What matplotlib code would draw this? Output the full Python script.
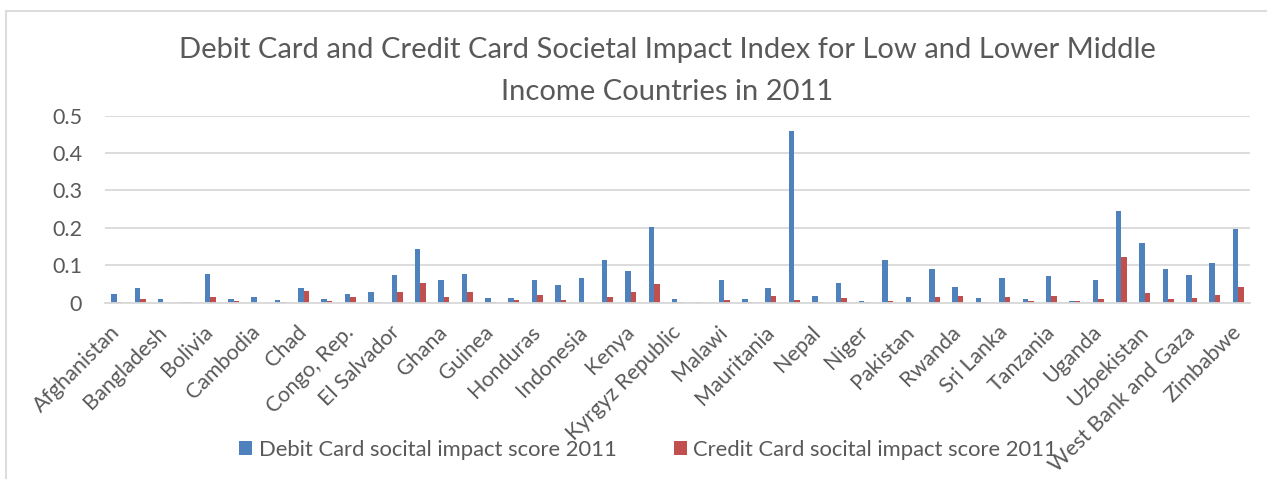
import matplotlib.pyplot as plt
from matplotlib.patches import Rectangle
import numpy as np

plt.rcParams['font.family'] = ['Lato', 'DejaVu Sans']

countries = [
    'Afghanistan', 'Armenia', 'Bangladesh', 'Benin', 'Bolivia', 'Burkina Faso',
    'Cambodia', 'Cameroon', 'Chad', 'Comoros', 'Congo, Rep.', 'Egypt, Arab Rep.',
    'El Salvador', 'Georgia', 'Ghana', 'Guatemala', 'Guinea', 'Haiti',
    'Honduras', 'India', 'Indonesia', 'Iraq', 'Kenya', 'Kosovo',
    'Kyrgyz Republic', 'Lao PDR', 'Malawi', 'Mali', 'Mauritania', 'Mongolia',
    'Nepal', 'Nicaragua', 'Niger', 'Nigeria', 'Pakistan', 'Philippines',
    'Rwanda', 'Senegal', 'Sri Lanka', 'Sudan', 'Tanzania', 'Togo',
    'Uganda', 'Ukraine', 'Uzbekistan', 'Vietnam', 'West Bank and Gaza', 'Zambia',
    'Zimbabwe',
]

debit_2011 = [
    0.022, 0.038, 0.009, 0.002, 0.078, 0.011, 0.015, 0.008, 0.040, 0.009,
    0.023, 0.029, 0.073, 0.143, 0.061, 0.078, 0.012, 0.012, 0.061, 0.047,
    0.065, 0.114, 0.084, 0.202, 0.010, 0.003, 0.062, 0.009, 0.038, 0.458,
    0.017, 0.053, 0.004, 0.113, 0.015, 0.089, 0.043, 0.012, 0.065, 0.009,
    0.071, 0.004, 0.060, 0.244, 0.159, 0.090, 0.074, 0.106, 0.197,
]

credit_2011 = [
    0.002, 0.011, 0.000, 0.002, 0.014, 0.004, 0.000, 0.003, 0.030, 0.004,
    0.015, 0.003, 0.028, 0.053, 0.015, 0.028, 0.003, 0.007, 0.020, 0.007,
    0.000, 0.016, 0.029, 0.050, 0.003, 0.000, 0.006, 0.002, 0.018, 0.006,
    0.003, 0.012, 0.003, 0.004, 0.003, 0.015, 0.019, 0.002, 0.016, 0.004,
    0.018, 0.004, 0.009, 0.121, 0.026, 0.009, 0.012, 0.021, 0.042,
]

W, H = 1267, 479
fig = plt.figure(figsize=(W / 100, H / 100), dpi=100)
ax = fig.add_axes([105 / W, 1 - 302.7 / H, (1250 - 105) / W, (302.7 - 115.7) / H])

x = np.arange(len(countries))
bw = 0.235
ax.bar(x - bw / 2, debit_2011, bw, color='#4F81BD', label='Debit Card socital impact score 2011')
ax.bar(x + bw / 2, credit_2011, bw, color='#C0504D', label='Credit Card socital impact score 2011')

ax.set_xlim(-0.5, len(countries) - 0.5)
ax.set_ylim(0, 0.5)
ax.set_yticks([0, 0.1, 0.2, 0.3, 0.4, 0.5])
ax.set_yticklabels(['0', '0.1', '0.2', '0.3', '0.4', '0.5'])
ax.yaxis.grid(True, color='#d9d9d9', linewidth=1.3)
ax.set_axisbelow(True)

ax.set_xticks(x[::2])
ax.set_xticklabels(countries[::2], rotation=45, ha='right', va='center',
                   rotation_mode='anchor')
ax.tick_params(axis='both', length=0, colors='#595959', labelsize=15.5)
ax.tick_params(axis='x', pad=19)
ax.tick_params(axis='y', pad=16.5)

for s in ['top', 'right', 'left']:
    ax.spines[s].set_visible(False)
ax.spines['bottom'].set_color('#d9d9d9')
ax.spines['bottom'].set_linewidth(1.3)

fig.suptitle('Debit Card and Credit Card Societal Impact Index for Low and Lower Middle\nIncome Countries in 2011',
             x=667 / W, y=1 - 37 / H, va='top', fontsize=21, color='#595959', linespacing=1.75)

fig.legend(loc='center', bbox_to_anchor=(648 / W, 1 - 450 / H), ncol=2, frameon=False,
           fontsize=15.8, labelcolor='#595959', handlelength=0.6, handleheight=0.6,
           handletextpad=0.3, columnspacing=2.6)

# chart area border
fig.patches.append(Rectangle((6 / W, -0.2), 1.2, 1.2 - 11 / H, transform=fig.transFigure,
                             fill=False, edgecolor='#d9d9d9', linewidth=1.3))

fig.savefig('out.png', dpi=100)
